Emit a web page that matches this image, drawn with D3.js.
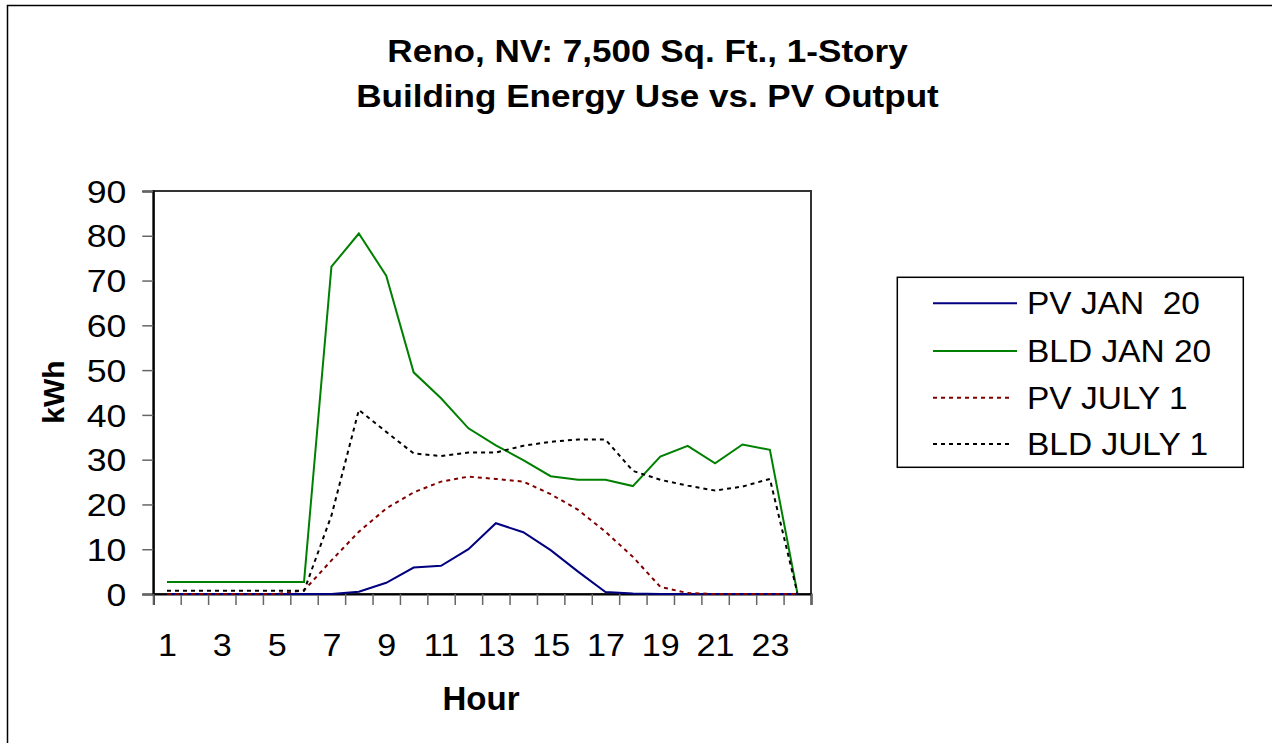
<!DOCTYPE html>
<html>
<head>
<meta charset="utf-8">
<script src="https://cdn.jsdelivr.net/npm/d3@7"></script>
<style>
  body { margin: 0; background: #fff; }
  svg { display: block; font-family: Arial, "Liberation Sans", sans-serif; }
</style>
</head>
<body>
<div id="chart"></div>
<script>
// hours 1..24
var hours = d3.range(1, 25);
var pvJan20   = [0,0,0,0,0,0,0,0.5,2.5,5.9,6.3,10.0,15.8,13.8,9.8,5.0,0.45,0.1,0,0,0,0,0,0];
var bldJan20  = [2.7,2.7,2.7,2.7,2.7,2.7,73.1,80.5,71.1,49.5,43.7,37.0,33.2,29.9,26.3,25.5,25.5,24.1,30.7,33.1,29.2,33.4,32.2,0.3];
var pvJuly1   = [0,0,0,0,0,0.8,7.5,13.9,19.1,22.7,25.1,26.2,25.7,25.1,22.3,18.8,13.9,8.3,1.6,0.2,0,0,0,0];
var bldJuly1  = [0.7,0.7,0.7,0.7,0.7,0.7,17.5,41.1,36.2,31.4,30.8,31.6,31.6,33.1,34.0,34.5,34.5,27.5,25.5,24.2,23.1,24.0,25.7,0.3];
var yTicks = [0,10,20,30,40,50,60,70,80,90];
var xLabels = [1,3,5,7,9,11,13,15,17,19,21,23];

var seriesNames = ["PV JAN  20", "BLD JAN 20", "PV JULY 1", "BLD JULY 1"];
var seriesValues = [pvJan20, bldJan20, pvJuly1, bldJuly1];
var seriesColors = ["#000080", "#008000", "#800000", "#000000"];
var seriesDash = [null, null, "4,4", "4,4"];

var W = 1272, H = 743;
var plot = {left: 153.3, right: 811, top: 191, bottom: 594};

var svg = d3.select("#chart").append("svg")
  .attr("width", W).attr("height", H);

// outer chart border (only left/top visible)
svg.append("rect")
  .attr("x", 7.5).attr("y", 5.5)
  .attr("width", 1400).attr("height", 900)
  .attr("fill", "none").attr("stroke", "#000").attr("stroke-width", 1.5);

var x = d3.scaleLinear().domain([0.5, 24.5]).range([plot.left, plot.right]);
var y = d3.scaleLinear().domain([0, 90]).range([plot.bottom, plot.top]);

// title
var titleLines = ["Reno, NV: 7,500 Sq. Ft., 1-Story", "Building Energy Use vs. PV Output"];
titleLines.forEach(function(t, i) {
  svg.append("text")
    .attr("transform", "translate(647.5," + (62 + i * 45) + ") scale(1.15,1)")
    .attr("text-anchor", "middle")
    .style("font-size", "30.5px").style("font-weight", "bold")
    .text(t);
});

// plot area frame
svg.append("rect")
  .attr("x", plot.left).attr("y", plot.top)
  .attr("width", plot.right - plot.left).attr("height", plot.bottom - plot.top)
  .attr("fill", "none").attr("stroke", "#333").attr("stroke-width", 2);

// y axis
var yAxis = svg.append("g")
  .attr("transform", "translate(" + plot.left + ",0)")
  .call(d3.axisLeft(y).tickValues(yTicks).tickSize(11).tickPadding(0));
yAxis.select(".domain").attr("stroke", "#000").attr("stroke-width", 2);
yAxis.selectAll(".tick line").attr("stroke", "#666").attr("stroke-width", 1.5);
yAxis.selectAll(".tick text")
  .attr("x", null).attr("dy", "0.36em")
  .attr("transform", "translate(-27,0) scale(1.15,1)")
  .style("font-size", "31px").style("font-family", "Arial, 'Liberation Sans', sans-serif")
  .attr("fill", "#000");

// x axis ticks at category boundaries
var xAxis = svg.append("g")
  .attr("transform", "translate(0," + plot.bottom + ")")
  .call(d3.axisBottom(x).tickValues(d3.range(0.5, 25, 1)).tickSize(11).tickFormat(""));
xAxis.select(".domain").attr("stroke", "#000").attr("stroke-width", 2);
xAxis.selectAll(".tick line").attr("stroke", "#666").attr("stroke-width", 1.5);

// x labels
var xLab = svg.append("g")
  .attr("transform", "translate(0," + plot.bottom + ")")
  .call(d3.axisBottom(x).tickValues(xLabels).tickSize(0).tickFormat(d3.format("d")));
xLab.select(".domain").remove();
xLab.selectAll(".tick text")
  .attr("y", null).attr("dy", null)
  .attr("transform", "translate(0,62) scale(1.1,1)")
  .style("font-size", "31px").style("font-family", "Arial, 'Liberation Sans', sans-serif")
  .attr("fill", "#000");

// axis titles
svg.append("text")
  .attr("transform", "translate(481,710)")
  .attr("text-anchor", "middle")
  .style("font-size", "33px").style("font-weight", "bold")
  .text("Hour");
svg.append("text")
  .attr("transform", "translate(64,392) rotate(-90)")
  .attr("text-anchor", "middle")
  .style("font-size", "30px").style("font-weight", "bold")
  .text("kWh");

// lines
var line = d3.line()
  .x(function(d, i) { return x(hours[i]); })
  .y(function(d) { return y(d); });

var order = [0, 1, 2, 3];
svg.append("g").selectAll("path")
  .data(order)
  .enter().append("path")
  .attr("d", function(i) { return line(seriesValues[i]); })
  .attr("fill", "none")
  .attr("stroke", function(i) { return seriesColors[i]; })
  .attr("stroke-width", 2)
  .attr("stroke-dasharray", function(i) { return seriesDash[i]; });

// legend
var leg = svg.append("g");
leg.append("rect")
  .attr("x", 897.3).attr("y", 277.3)
  .attr("width", 346).attr("height", 190)
  .attr("fill", "#fff").attr("stroke", "#000").attr("stroke-width", 1.5);
var rowY = [303.3, 351, 397.7, 444];
var items = leg.selectAll("g.item")
  .data(order)
  .enter().append("g").attr("class", "item")
  .attr("transform", function(i) { return "translate(0," + rowY[i] + ")"; });
items.append("line")
  .attr("x1", 933).attr("x2", function(i) { return seriesDash[i] ? 1012 : 1017; })
  .attr("y1", 0).attr("y2", 0)
  .attr("stroke", function(i) { return seriesColors[i]; })
  .attr("stroke-width", 2)
  .attr("stroke-dasharray", function(i) { return seriesDash[i]; });
items.append("text")
  .attr("transform", "translate(1027,11) scale(1.08,1)")
  .attr("xml:space", "preserve")
  .style("white-space", "pre")
  .style("font-size", "31px")
  .text(function(i) { return seriesNames[i]; });
</script>
</body>
</html>
